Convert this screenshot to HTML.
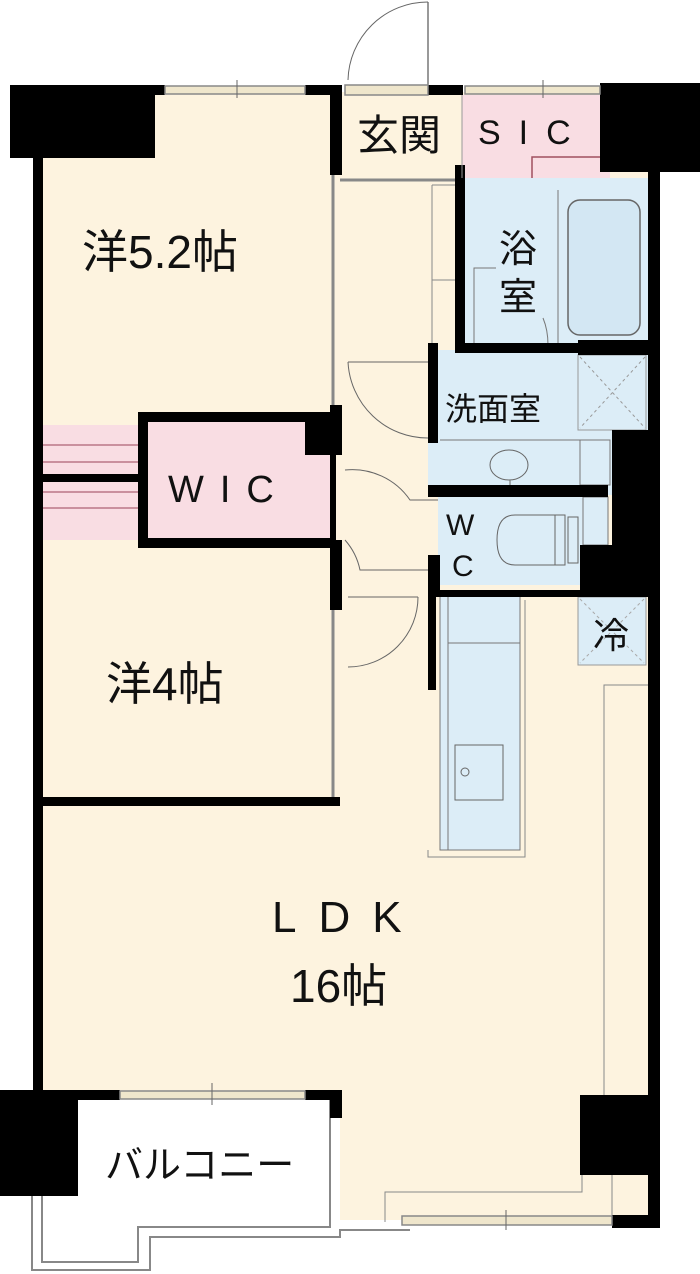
<!DOCTYPE html>
<html><head><meta charset="utf-8"><style>
html,body{margin:0;padding:0;background:#fff;}
svg{display:block}
text{font-family:"Liberation Sans","Noto Sans CJK JP",sans-serif;fill:#111}
</style></head><body>
<svg width="700" height="1274" viewBox="0 0 700 1274" xmlns="http://www.w3.org/2000/svg">
<rect x="40" y="92" width="610" height="1128" fill="#fdf3df"/>
<rect x="0" y="1098" width="340" height="176" fill="#fff"/>
<rect x="340" y="1225" width="360" height="49" fill="#fff"/>
<path d="M32 1196 V1270 H150 V1237 H340 V1230 H410" fill="none" stroke="#888" stroke-width="2"/>
<path d="M42 1196 V1262 H138 V1227 H330 V1100" fill="none" stroke="#888" stroke-width="2"/>
<rect x="462" y="95" width="148" height="83" fill="#f9dde3"/>
<path d="M532 178 V157 H610" fill="none" stroke="#a05060" stroke-width="1.5"/>
<rect x="462" y="178" width="186" height="170" fill="#dcedf7"/>
<rect x="568" y="200" width="72" height="135" rx="12" fill="#d3e7f3" stroke="#666" stroke-width="1.5"/>
<line x1="558" y1="190" x2="558" y2="345" stroke="#777"/>
<path d="M474 345 V268 H496 M543 318 Q548 330 548 345" fill="none" stroke="#777"/>
<rect x="428" y="350" width="220" height="145" fill="#dcedf7"/>
<rect x="578" y="355" width="68" height="75" fill="#dcedf7" stroke="#999"/>
<path d="M580 357 L645 428 M645 357 L580 428" stroke="#999" stroke-dasharray="3,3"/>
<line x1="440" y1="440" x2="610" y2="440" stroke="#777"/>
<rect x="580" y="440" width="30" height="45" fill="none" stroke="#777"/>
<path d="M490 465 a19 15 0 1 0 38 0 a19 15 0 1 0 -38 0 M510 480 v10" fill="none" stroke="#666"/>
<rect x="438" y="497" width="145" height="88" fill="#dcedf7"/>
<rect x="583" y="497" width="25" height="48" fill="#dcedf7" stroke="#777"/>
<path d="M555 515 H515 Q497 515 497 540 Q497 565 515 565 H555 Z" fill="none" stroke="#666"/>
<rect x="555" y="515" width="10" height="50" fill="none" stroke="#666"/>
<rect x="568" y="517" width="10" height="46" fill="none" stroke="#666"/>
<rect x="578" y="597" width="68" height="68" fill="#dcedf7" stroke="#999"/>
<path d="M580 599 L644 663 M644 599 L580 663" stroke="#aaa" stroke-dasharray="3,3"/>
<rect x="440" y="595" width="80" height="255" fill="#dcedf7" stroke="#777"/>
<line x1="448" y1="595" x2="448" y2="850" stroke="#777"/>
<line x1="448" y1="643" x2="520" y2="643" stroke="#777"/>
<rect x="455" y="745" width="48" height="55" fill="none" stroke="#666"/>
<circle cx="465" cy="772" r="4" fill="none" stroke="#666"/>
<path d="M428 850 V857 H525 V600" fill="none" stroke="#888"/>
<path d="M648 685 H604 V1095" fill="none" stroke="#888"/>
<path d="M582 1175 V1192 H385 V1222" fill="none" stroke="#888"/>
<line x1="612" y1="1175" x2="612" y2="1218" stroke="#888"/>
<rect x="43" y="425" width="95" height="115" fill="#f9dde3"/>
<path d="M43 445 H138 M43 462 H138 M43 492 H138 M43 508 H138" stroke="#b78" stroke-width="1.5"/>
<rect x="43" y="474" width="95" height="8" fill="#000"/>
<rect x="138" y="412" width="198" height="136" fill="#000"/>
<rect x="148" y="422" width="182" height="116" fill="#f9dde3"/>
<rect x="305" y="412" width="35" height="43" fill="#000"/>
<path d="M432 185 V345 M432 185 H455 M432 280 H455" fill="none" stroke="#888"/>
<line x1="333" y1="95" x2="333" y2="412" stroke="#888" stroke-width="3"/>
<line x1="333" y1="590" x2="333" y2="800" stroke="#888" stroke-width="3"/>
<line x1="340" y1="180" x2="455" y2="180" stroke="#888" stroke-width="3"/>
<path d="M348 362 H428 M348 362 A80 80 0 0 0 428 438" fill="none" stroke="#666"/>
<path d="M345 470 A70 70 0 0 1 410 500 H438" fill="none" stroke="#666"/>
<path d="M345 540 A65 65 0 0 1 360 570 H430" fill="none" stroke="#666"/>
<path d="M348 597 H418 M418 597 A70 70 0 0 1 348 667" fill="none" stroke="#666"/>
<path d="M428 2 V85" stroke="#333"/>
<path d="M348 80 A80 80 0 0 1 428 2" fill="none" stroke="#666"/>
<g fill="#000">
<rect x="10" y="85" width="145" height="73"/>
<rect x="33" y="150" width="10" height="945"/>
<rect x="155" y="85" width="10" height="10"/>
<rect x="305" y="85" width="35" height="10"/>
<rect x="330" y="85" width="12" height="90"/>
<rect x="428" y="85" width="35" height="10"/>
<rect x="600" y="83" width="100" height="89"/>
<rect x="648" y="165" width="12" height="1063"/>
<rect x="455" y="165" width="10" height="185"/>
<rect x="455" y="343" width="193" height="10"/>
<rect x="428" y="343" width="10" height="100"/>
<rect x="428" y="485" width="180" height="12"/>
<rect x="428" y="590" width="220" height="7"/>
<rect x="428" y="555" width="12" height="40"/>
<rect x="428" y="595" width="8" height="95"/>
<rect x="612" y="430" width="36" height="165"/>
<rect x="580" y="545" width="35" height="50"/>
<rect x="578" y="340" width="70" height="15"/>
<rect x="330" y="405" width="12" height="50"/>
<rect x="330" y="540" width="12" height="70"/>
<rect x="43" y="797" width="297" height="9"/>
<rect x="0" y="1090" width="78" height="106"/>
<rect x="78" y="1090" width="42" height="10"/>
<rect x="305" y="1090" width="37" height="10"/>
<rect x="330" y="1090" width="12" height="28"/>
<rect x="580" y="1095" width="70" height="80"/>
<rect x="612" y="1215" width="48" height="13"/>
</g>
<g fill="#efe6cc" stroke="#888" stroke-width="1.5">
<rect x="165" y="86" width="140" height="8"/>
<rect x="465" y="86" width="135" height="8"/>
<rect x="120" y="1091" width="185" height="8"/>
<rect x="402" y="1216" width="210" height="9"/>
<rect x="345" y="85" width="83" height="10"/>
</g>
<path d="M237 80 V98 M543 80 V98 M212 1083 V1105 M506 1210 V1230" stroke="#666"/>
<line x1="462" y1="95" x2="462" y2="178" stroke="#999"/>
<text x="82" y="268" font-size="46">洋5.2帖</text>
<text x="168" y="502" font-size="38" letter-spacing="16">WIC</text>
<text x="106" y="700" font-size="46">洋4帖</text>
<text x="272" y="932" font-size="44" letter-spacing="22">LDK</text>
<text x="290" y="1002" font-size="46">16帖</text>
<text x="357" y="150" font-size="42">玄関</text>
<text x="478" y="144" font-size="34" letter-spacing="18">SIC</text>
<text x="499" y="262" font-size="38">浴</text>
<text x="499" y="310" font-size="38">室</text>
<text x="445" y="420" font-size="32">洗面室</text>
<text x="446" y="535" font-size="30">W</text>
<text x="452" y="576" font-size="30">C</text>
<text x="593" y="648" font-size="36">冷</text>
<text x="105" y="1178" font-size="38">バルコニー</text>
</svg>
</body></html>
